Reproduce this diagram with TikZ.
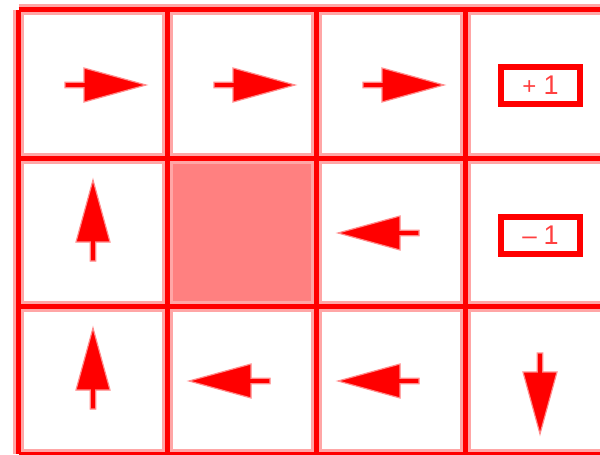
\documentclass[tikz,border=0pt]{standalone}
\usepackage{fontspec}
\setmainfont{Liberation Sans}
\begin{document}
\begin{tikzpicture}[x=1pt,y=-1pt,
  halo/.style={draw=red!35,line width=11},
  gridline/.style={draw=red,line width=5},
  rewardbox/.style={draw=red,line width=6,minimum width=79,minimum height=37,inner sep=0,
     text=red!75,font=\fontsize{27}{27}\selectfont},
  pics/parrow/.style={code={
    \fill[red,draw=red!45,line width=1.2] (-28,-2.8) -- (-9,-2.8) -- (-9,-17) -- (53,0) -- (-9,17) -- (-9,2.8) -- (-28,2.8) -- cycle;}}]
\useasboundingbox (0,0) rectangle (600,455);
\clip (0,0) rectangle (600,455);
% wall cell
\fill[red!50] (167.5,158) rectangle (316.5,306);
% grid lines
\foreach \x in {18.5,167.5,316.5,465,614} {
  \draw[halo] (\x,9.5) -- (\x,454);
}
\foreach \y in {9.5,158,306,454} {
  \draw[halo] (18.5,\y) -- (614,\y);
}
\foreach \x in {18.5,167.5,316.5,465,614} {
  \draw[gridline] (\x,9.5) -- (\x,454);
}
\foreach \y in {9.5,158,306,454} {
  \draw[gridline] (18.5,\y) -- (614,\y);
}
% policy arrows
\pic at (93,85) {parrow};
\pic at (242,85) {parrow};
\pic at (391,85) {parrow};
\pic[rotate=90] at (93,233) {parrow};
\pic[rotate=180] at (391,233) {parrow};
\pic[rotate=90] at (93,381) {parrow};
\pic[rotate=180] at (242,381) {parrow};
\pic[rotate=180] at (391,381) {parrow};
\pic[rotate=-90] at (540,381) {parrow};
% rewards
\node[rewardbox] (plus) at (540.5,85.5) {{\fontsize{24}{24}\selectfont +}\hspace{7pt}1};
\node[rewardbox] (minus) at (540.5,235) {{\fontsize{26}{26}\selectfont –}\hspace{7pt}1};
\end{tikzpicture}
\end{document}
